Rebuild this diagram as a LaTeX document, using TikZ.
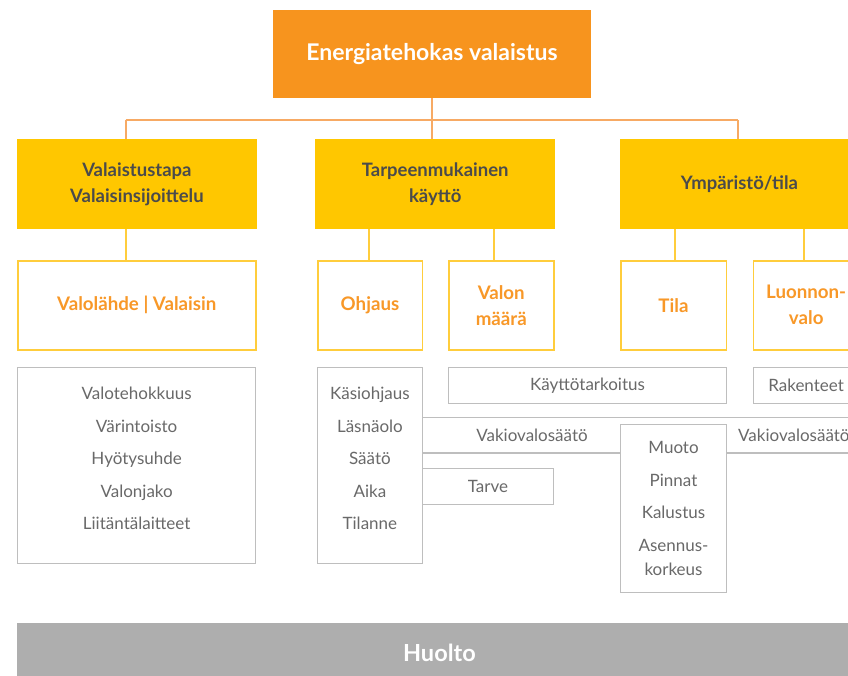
\documentclass[tikz,border=0pt]{standalone}
\usepackage{fontspec}
\setmainfont{Lato}
\definecolor{topfill}{RGB}{247,148,30}
\definecolor{mainfill}{RGB}{255,199,0}
\definecolor{subedge}{RGB}{255,205,60}
\definecolor{subtext}{RGB}{248,152,40}
\definecolor{toplink}{RGB}{247,170,100}
\definecolor{listedge}{RGB}{190,190,190}
\definecolor{listtext}{RGB}{105,105,105}
\definecolor{headtext}{RGB}{75,75,75}
\definecolor{barfill}{RGB}{174,174,174}
% extra depth below the last line of a list, lifting the list a little
\newcommand{\listtail}{\rule[-14pt]{0pt}{1pt}}
\begin{document}
\begin{tikzpicture}[x=1pt,y=-1pt,
  box/.style={anchor=north west, inner sep=0pt, align=center},
  rootbox/.style={box, fill=topfill, text=white,
    font=\fontsize{23}{27}\selectfont\bfseries},
  mainbox/.style={box, fill=mainfill, text=headtext,
    font=\fontsize{18.5}{26.5}\selectfont\bfseries},
  subbox/.style={box, draw=subedge, line width=1.5pt, fill=white, text=subtext,
    font=\fontsize{18.7}{26}\selectfont\bfseries},
  listbox/.style={box, draw=listedge, line width=1.3pt, fill=white, text=listtext,
    font=\fontsize{17}{32.5}\selectfont},
  barbox/.style={box, fill=barfill, text=white,
    font=\fontsize{23.5}{27}\selectfont\bfseries},
  toplinkline/.style={draw=toplink, line width=1.8pt},
  sublinkline/.style={draw=subedge, line width=1.8pt},
  listlinkline/.style={draw=listedge, line width=1.3pt},
  note/.style={text=listtext, font=\fontsize{17}{20}\selectfont, inner sep=0pt}
]
\useasboundingbox (0,0) rectangle (848,675);
\clip (0,0) rectangle (848,675);

% column positions of the connectors
\coordinate (xa) at (125.7,0);
\coordinate (xb) at (432.3,0);
\coordinate (xc) at (737.7,0);
\coordinate (xd) at (369.3,0);
\coordinate (xe) at (494,0);
\coordinate (xf) at (675,0);
\coordinate (xg) at (804.3,0);
\coordinate (bus) at (0,119.7);
\coordinate (rimR) at (860,0);
\coordinate (lineA) at (0,417.3);
\coordinate (lineB) at (0,453);

% root
\node[rootbox, minimum width=318.5pt, minimum height=88pt] (root) at (272.5,10) {Energiatehokas valaistus};

% main themes
\node[mainbox, minimum width=240pt, minimum height=90pt] (tapa) at (16.7,139) {Valaistustapa\\Valaisinsijoittelu};
\node[mainbox, minimum width=240pt, minimum height=90pt] (tarve) at (315,139) {Tarpeenmukainen\\käyttö};
\node[mainbox, minimum width=240pt, minimum height=90pt] (ymp) at (619.3,139) {Ympäristö/tila};

% sub themes
\node[subbox, minimum width=238pt, minimum height=89pt] (lahde) at (17,260) {Valolähde | Valaisin};
\node[subbox, minimum width=104.5pt, minimum height=89pt] (ohj) at (317,260) {Ohjaus};
\node[subbox, minimum width=105pt, minimum height=89pt] (maara) at (448,260) {Valon\\määrä};
\node[subbox, minimum width=105.5pt, minimum height=89pt] (tila) at (620,260) {Tila};
\node[subbox, minimum width=105.5pt, minimum height=89pt] (luonto) at (752.7,260) {Luonnon-\\valo};

% detail lists
\node[listbox, minimum width=238pt, minimum height=196pt] (ominais) at (17,367) {Valotehokkuus\\Värintoisto\\Hyötysuhde\\Valonjako\\Liitäntälaitteet\listtail};
\node[listbox, minimum width=104.5pt, minimum height=196pt] (tavat) at (317,367) {Käsiohjaus\\Läsnäolo\\Säätö\\Aika\\Tilanne\listtail};
\node[listbox, minimum width=277.7pt, minimum height=36pt] (kaytto) at (448,367) {Käyttötarkoitus};
\node[listbox, minimum width=105.5pt, minimum height=36pt] (rakenteet) at (752.7,367) {Rakenteet};
\node[listbox, minimum width=105.7pt, minimum height=168pt] (muoto) at (620,424) {Muoto\\Pinnat\\Kalustus\\Asennus-\\[-8pt]korkeus};
\node[listbox, minimum width=131.3pt, minimum height=36pt] (tarvebox) at (421.7,468) {Tarve};

% maintenance bar
\node[barbox, minimum width=845pt, minimum height=60pt] (huolto) at (16.7,623) {Huolto};

% root to main themes
\draw[toplinkline] (root.south) -- (root.south |- bus);
\draw[toplinkline] (xa |- bus) -- (xc |- bus);
\draw[toplinkline] (tapa.north -| xa) -- (xa |- bus);
\draw[toplinkline] (ymp.north -| xc) -- (xc |- bus);
\draw[toplinkline] (tarve.north -| xb) -- (xb |- bus);

% main themes to sub themes
\draw[sublinkline] (tapa.south -| xa) -- (lahde.north -| xa);
\draw[sublinkline] (tarve.south -| xd) -- (ohj.north -| xd);
\draw[sublinkline] (tarve.south -| xe) -- (maara.north -| xe);
\draw[sublinkline] (ymp.south -| xf) -- (tila.north -| xf);
\draw[sublinkline] (ymp.south -| xg) -- (luonto.north -| xg);

% constant light control links
\draw[listlinkline] (tavat.east |- lineA) -- (rimR |- lineA);
\draw[listlinkline] (tavat.east |- lineB) -- (muoto.west |- lineB);
\draw[listlinkline] (muoto.east |- lineB) -- (rimR |- lineB);
\node[note] (vakio1) at (532,435) {Vakiovalosäätö};
\node[note, anchor=west] (vakio2) at (738,435) {Vakiovalosäätö};
\end{tikzpicture}
\end{document}
